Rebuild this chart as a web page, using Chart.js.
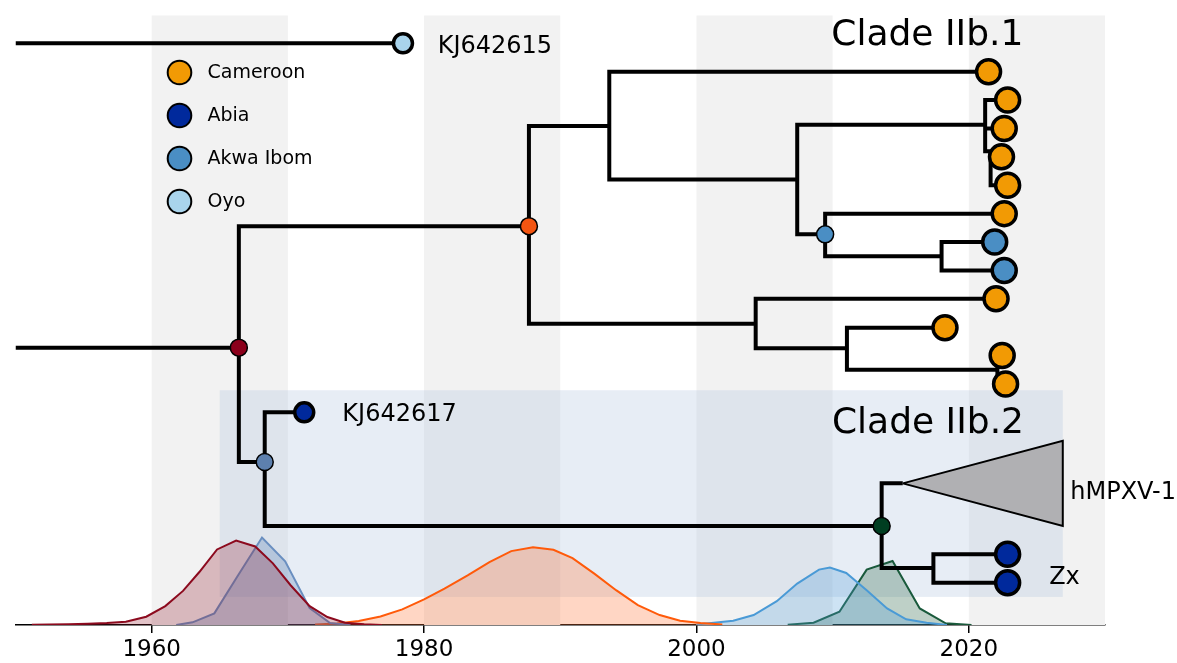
<!DOCTYPE html>
<html lang="en">
<head>
<meta charset="UTF-8">
<title>Clade IIb time tree</title>
<script src="https://cdn.jsdelivr.net/npm/chart.js"></script>
<style>
  html, body { margin: 0; padding: 0; background: #fff; }
  #wrap { width: 1177px; height: 663px; }
</style>
</head>
<body>
<div id="wrap"><canvas id="treeChart"></canvas></div>
<script>
// time axis (years)
const xMin = 1950, xMax = 2030;
const tickYears = [1960, 1980, 2000, 2020];
const bandYears = [[1960, 1970], [1980, 1990], [2000, 2010], [2020, 2030]];

// tree rows, top to bottom
const rowMin = -0.98, rowMax = 20.49;

// [id, parent, year, row, location]
const treeNodes = [
    ['o1', null, 1950, 10.72],
    ['root', 'o1', 1966.4, 10.72],
    ['o2', null, 1950, 0],
    ['KJ642615', 'o2', 1978.45, 0, 'Oyo'],
    ['n1', 'root', 1987.7, 6.44],
    ['n3', 'n1', 1993.6, 2.91],
    ['c1', 'n3', 2021.45, 1.0, 'Cameroon'],
    ['n5', 'n3', 2007.4, 4.8],
    ['n6', 'n5', 2021.2, 2.87],
    ['c2', 'n6', 2022.85, 2, 'Cameroon'],
    ['c3', 'n6', 2022.6, 3, 'Cameroon'],
    ['n8', 'n6', 2021.6, 3.8],
    ['c4', 'n8', 2022.4, 4, 'Cameroon'],
    ['c5', 'n8', 2022.85, 5, 'Cameroon'],
    ['n7', 'n5', 2009.45, 6.73],
    ['c6', 'n7', 2022.6, 6, 'Cameroon'],
    ['n9', 'n7', 2018.0, 7.5],
    ['c7', 'n9', 2021.9, 7, 'Akwa Ibom'],
    ['c8', 'n9', 2022.6, 8, 'Akwa Ibom'],
    ['n4', 'n1', 2004.35, 9.88],
    ['c9', 'n4', 2022.0, 9, 'Cameroon'],
    ['n10', 'n4', 2011.05, 10.74],
    ['c10', 'n10', 2018.25, 10.02, 'Cameroon'],
    ['n11', 'n10', 2022.1, 11.5],
    ['c11', 'n11', 2022.45, 11, 'Cameroon'],
    ['c12', 'n11', 2022.7, 12, 'Cameroon'],
    ['s', 'root', 1968.3, 14.75],
    ['KJ642617', 's', 1971.2, 13, 'Abia'],
    ['g', 's', 2013.6, 17.0],
    ['hMPXV-1', 'g', 2015.15, 15.5],
    ['n12', 'g', 2017.4, 18.48],
    ['zx1', 'n12', 2022.85, 18, 'Abia'],
    ['zx2', 'n12', 2022.85, 19, 'Abia'],
];

// collapsed hMPXV-1 clade
const triangleYears = [2015.15, 2026.9, 2026.9, 2015.15];
const triangleRows = [15.5, 14.0, 17.0, 15.5];

// Clade IIb.2 box: years, rows
const boxYears = [1965, 2026.9];
const boxRows = [12.22, 19.5];

const locations = ['Cameroon', 'Abia', 'Akwa Ibom', 'Oyo'];
const locationColors = ['#f29a04', '#00299c', '#4a8ec4', '#a9d4ec'];

// dated internal nodes and their age densities
const dotNodes = ['root', 'n1', 'n7', 's', 'g'];
const dotColors = ['#8b001b', '#f45511', '#4a8ec4', '#5d80ae', '#003e21'];

const densRootYears = [1951.2, 1952.5, 1953.9, 1955.3, 1956.7, 1958.1, 1959.6, 1961.0, 1962.3, 1963.5, 1964.8, 1966.2, 1967.6, 1968.9, 1970.2, 1971.6, 1972.9, 1974.2, 1975.6, 1976.9];
const densRoot = [0.2, 0.5, 0.8, 1.3, 2, 3.3, 8.3, 19, 34.3, 53.3, 76, 85, 79, 62, 40, 19, 8, 2.3, 0.8, 0];
const densN1Years = [1972.0, 1973.6, 1975.2, 1976.8, 1978.4, 1980.0, 1981.5, 1983.2, 1984.8, 1986.4, 1988.0, 1989.5, 1990.9, 1992.5, 1994.1, 1995.7, 1997.3, 1998.8, 2000.3, 2001.9];
const densN1 = [0.5, 1.5, 4, 8.5, 15.7, 25.7, 36.7, 50, 63.3, 74.3, 78.3, 75.7, 67.3, 51.7, 35, 20, 10, 4.3, 2, 0.5];
const densN7Years = [2000.0, 2001.1, 2002.7, 2004.2, 2005.9, 2007.4, 2009.0, 2009.8, 2011.0, 2012.5, 2014.0, 2015.4, 2016.9, 2018.4];
const densN7 = [0.5, 2, 4.3, 10, 24, 41.7, 55.7, 57.7, 52.3, 35, 16.7, 5.7, 2.3, 0];
const densSYears = [1961.8, 1963.0, 1964.6, 1966.3, 1968.1, 1969.8, 1971.6, 1973.1, 1974.6];
const densS = [0, 2.7, 11.7, 49, 88, 64, 17, 2, 0];
const densGYears = [2006.7, 2008.6, 2010.5, 2012.5, 2014.4, 2016.4, 2018.3, 2020.2];
const densG = [0.3, 2.3, 13.3, 55.7, 64.3, 16.7, 1.7, 0];

// text annotations
const notes = [
    { text: 'KJ642615', x: 1981.0, y: 0.35, size: 24 },
    { text: 'KJ642617', x: 1974.0, y: 13.31, size: 24 },
    { text: 'Clade IIb.1', x: 2009.9, y: 0.06, size: 36 },
    { text: 'Clade IIb.2', x: 2009.95, y: 13.72, size: 36 },
    { text: 'hMPXV-1', x: 2027.45, y: 16.04, size: 24 },
    { text: 'Zx', x: 2025.9, y: 19.05, size: 24 },
];

Chart.defaults.font.family = 'DejaVu Sans';
Chart.defaults.color = '#000';

const byId = Object.fromEntries(treeNodes.map(n => [n[0], n]));
const branchPts = [];
treeNodes.forEach(([id, parent, year, row]) => {
    if (!parent) return;
    const p = byId[parent];
    branchPts.push({ x: p[2], y: p[3] }, { x: p[2], y: row }, { x: year, y: row }, { x: year, y: null });
});

const tips = treeNodes.filter(n => n[4]);
const smallTips = ['KJ642615', 'KJ642617'];
const colorOf = loc => locationColors[locations.indexOf(loc)];

const densities = [
    [densRootYears, densRoot, '#8c0a1e', 'rgba(140,10,30,0.25)'],
    [densSYears, densS, '#6a8fc0', 'rgba(106,143,192,0.35)'],
    [densN1Years, densN1, '#ff5a0a', 'rgba(255,120,60,0.3)'],
    [densN7Years, densN7, '#4a9ad6', 'rgba(74,154,214,0.28)'],
    [densGYears, densG, '#1a5a3c', 'rgba(40,100,70,0.3)'],
];

const datasets = densities.map(([xs, ys, line, fill]) => ({
    data: xs.map((x, i) => ({ x, y: ys[i] })),
    yAxisID: 'yd',
    borderColor: line,
    backgroundColor: fill,
    borderWidth: 2,
    fill: 'origin',
    pointRadius: 0,
    order: 10
}));

datasets.push({
    data: branchPts,
    yAxisID: 'y',
    borderColor: '#000',
    borderWidth: 4,
    borderJoinStyle: 'miter',
    pointRadius: 0,
    spanGaps: false,
    fill: false,
    order: 5
});

datasets.push({
    data: triangleYears.map((x, i) => ({ x, y: triangleRows[i] })),
    yAxisID: 'y',
    borderColor: '#000',
    backgroundColor: '#b0b0b3',
    borderWidth: 2,
    fill: 'shape',
    pointRadius: 0,
    order: 4
});

datasets.push({
    data: dotNodes.map(id => ({ x: byId[id][2], y: byId[id][3] })),
    yAxisID: 'y',
    showLine: false,
    pointRadius: 8.5,
    pointBorderWidth: 1.5,
    pointBorderColor: '#000',
    pointBackgroundColor: dotColors,
    order: 2
});

datasets.push({
    data: tips.map(n => ({ x: n[2], y: n[3] })),
    yAxisID: 'y',
    showLine: false,
    pointRadius: tips.map(n => smallTips.includes(n[0]) ? 9.5 : 12),
    pointBorderWidth: 3.5,
    pointBorderColor: '#000',
    pointBackgroundColor: tips.map(n => colorOf(n[4])),
    order: 1
});

const backdrop = {
    id: 'backdrop',
    beforeDatasetsDraw(chart) {
        const { ctx, chartArea: a, scales: { x, y } } = chart;
        ctx.save();
        ctx.fillStyle = '#f2f2f2';
        bandYears.forEach(([x0, x1]) => {
            const p0 = x.getPixelForValue(x0), p1 = x.getPixelForValue(x1);
            ctx.fillRect(p0, a.top, p1 - p0, a.bottom - a.top);
        });
        ctx.fillStyle = 'rgba(176,196,222,0.3)';
        const bx0 = x.getPixelForValue(boxYears[0]), bx1 = x.getPixelForValue(boxYears[1]);
        const by0 = y.getPixelForValue(boxRows[0]), by1 = y.getPixelForValue(boxRows[1]);
        ctx.fillRect(bx0, by0, bx1 - bx0, by1 - by0);
        ctx.restore();
    }
};

const overlay = {
    id: 'overlay',
    afterDraw(chart) {
        const { ctx, chartArea: a, scales: { x, y } } = chart;
        ctx.save();
        ctx.fillStyle = '#000';
        ctx.textAlign = 'left';
        ctx.textBaseline = 'alphabetic';
        notes.forEach(n => {
            ctx.font = n.size + 'px "DejaVu Sans"';
            ctx.fillText(n.text, x.getPixelForValue(n.x), y.getPixelForValue(n.y));
        });
        // legend
        ctx.font = '19px "DejaVu Sans"';
        ctx.textBaseline = 'middle';
        locations.forEach((loc, i) => {
            const cy = a.top + 57 + i * 43;
            ctx.beginPath();
            ctx.arc(a.left + 164, cy, 11.8, 0, Math.PI * 2);
            ctx.fillStyle = locationColors[i];
            ctx.fill();
            ctx.lineWidth = 2;
            ctx.strokeStyle = '#000';
            ctx.stroke();
            ctx.fillStyle = '#000';
            ctx.fillText(loc, a.left + 192, cy + 1);
        });
        ctx.restore();
    }
};

new Chart(document.getElementById('treeChart'), {
    type: 'line',
    data: { datasets },
    options: {
        responsive: true,
        maintainAspectRatio: false,
        animation: false,
        layout: { padding: { left: 11, right: 72, top: 12, bottom: 0 } },
        plugins: { legend: { display: false }, tooltip: { enabled: false } },
        scales: {
            x: {
                type: 'linear',
                min: xMin,
                max: xMax,
                afterBuildTicks: s => { s.ticks = tickYears.map(v => ({ value: v })); },
                afterFit: s => { s.height = 38; },
                ticks: { font: { size: 23, lineHeight: 1 }, color: '#000', padding: 6, callback: v => String(v) },
                grid: { display: true, drawOnChartArea: false, drawTicks: true, tickLength: 8, color: '#000', lineWidth: 1.5 },
                border: { display: true, color: '#000', width: 1.5 }
            },
            y: { type: 'linear', reverse: true, min: rowMin, max: rowMax, display: false },
            yd: { type: 'linear', min: 0, max: 613, display: false }
        }
    },
    plugins: [backdrop, overlay]
});
</script>
</body>
</html>
